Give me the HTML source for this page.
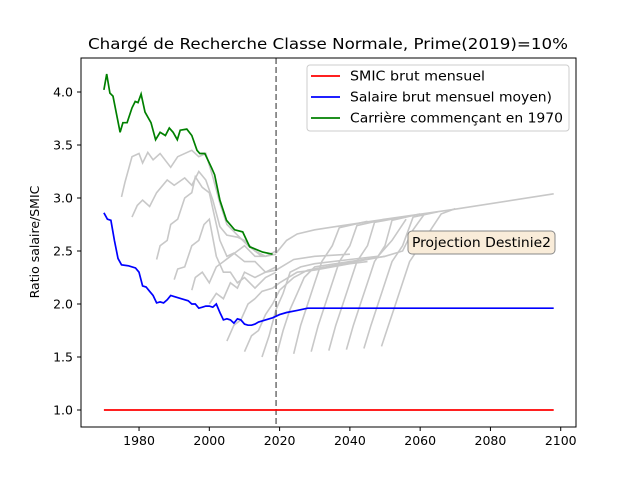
<!DOCTYPE html>
<html><head><meta charset="utf-8"><style>
body{margin:0;background:#fff}
svg{display:block;font-family:"DejaVu Sans","Liberation Sans",sans-serif}
</style></head><body>
<svg id="chart" width="640" height="480" viewBox="0 0 640 480">
<rect width="640" height="480" fill="#fff"/>
<text x="88" y="49" font-size="15" textLength="480" lengthAdjust="spacingAndGlyphs">Chargé de Recherche Classe Normale, Prime(2019)=10%</text>
<text transform="translate(39,242) rotate(-90)" font-size="12.5" text-anchor="middle">Ratio salaire/SMIC</text>
<g id="grays"></g>
<g id="main"></g>
<g id="axes"></g>
<g>
<rect x="408" y="231" width="147" height="23" rx="4" fill="#f9ecd9" stroke="#888" stroke-width="1"/>
<text x="412" y="247" font-size="13" textLength="139" lengthAdjust="spacingAndGlyphs">Projection Destinie2</text>
</g>
<g>
<rect x="307" y="65" width="262" height="66" rx="3" fill="#fff" fill-opacity="0.85" stroke="#ccc"/>
<g><line x1="311" x2="340" y1="76" y2="76" stroke="#f00" stroke-width="1.7"/><text x="350" y="80.5" font-size="13" textLength="135" lengthAdjust="spacingAndGlyphs">SMIC brut mensuel</text></g>
<g><line x1="311" x2="340" y1="97" y2="97" stroke="#00f" stroke-width="1.7"/><text x="350" y="101.5" font-size="13" textLength="202" lengthAdjust="spacingAndGlyphs">Salaire brut mensuel moyen)</text></g>
<g><line x1="311" x2="340" y1="118" y2="118" stroke="#008000" stroke-width="1.7"/><text x="350" y="122.5" font-size="13" textLength="213" lengthAdjust="spacingAndGlyphs">Carrière commençant en 1970</text></g>
</g>
</svg>
<script>
const xTicks=[1980,2000,2020,2040,2060,2080,2100];
const yTicks=[1.0,1.5,2.0,2.5,3.0,3.5,4.0];
const smic=[[1970,1.0],[2098,1.0]];
const salaire=[[1970,2.86],[1971,2.8],[1972,2.79],[1973,2.6],[1974,2.43],[1975,2.37],[1977,2.36],[1979,2.34],[1980,2.3],[1981,2.17],[1982,2.16],[1983,2.12],[1984,2.08],[1985,2.01],[1986,2.02],[1987,2.01],[1988,2.04],[1989,2.08],[1990,2.07],[1992,2.05],[1994,2.03],[1995,2.0],[1996,2.0],[1997,1.96],[1998,1.97],[1999,1.98],[2000,1.98],[2001,1.97],[2002,2.0],[2003,1.92],[2004,1.85],[2005,1.86],[2006,1.85],[2007,1.82],[2008,1.86],[2009,1.85],[2010,1.81],[2011,1.8],[2012,1.8],[2013,1.81],[2014,1.83],[2016,1.85],[2018,1.87],[2020,1.9],[2022,1.92],[2025,1.94],[2028,1.96],[2098,1.96]];
const carriere=[[1970,4.02],[1970.8,4.17],[1971.7,3.99],[1972.6,3.96],[1974.6,3.62],[1975.4,3.71],[1976.6,3.71],[1978,3.85],[1978.9,3.91],[1979.7,3.9],[1980.6,3.98],[1981.7,3.81],[1983.4,3.71],[1984.7,3.55],[1986,3.62],[1987.5,3.59],[1988.6,3.66],[1989.7,3.62],[1990.9,3.55],[1991.7,3.64],[1993.6,3.65],[1995,3.59],[1996.5,3.45],[1997.3,3.42],[1998.7,3.42],[2000.7,3.28],[2001.5,3.22],[2003,2.98],[2004.9,2.79],[2007.2,2.7],[2009.5,2.68],[2011.5,2.54],[2015.2,2.49],[2018,2.47]];
const g1975=[[1975,3.01],[1976,3.15],[1978,3.39],[1980,3.42],[1981,3.33],[1982.5,3.43],[1984,3.36],[1986,3.42],[1989,3.29],[1991,3.39],[1995,3.45],[1997,3.39],[1999,3.42],[2001,3.2],[2003,2.95],[2005,2.75],[2008,2.65],[2011,2.55],[2015,2.45]];
const g1978=[[1978,2.82],[1979.5,2.93],[1981,2.98],[1983,2.92],[1985,3.05],[1988,3.17],[1990,3.12],[1993,3.19],[1995,3.12],[1997,3.25],[1999,3.17],[2001,2.98],[2003,2.73],[2005,2.65],[2008,2.63],[2010,2.6],[2013,2.5],[2016,2.45],[2019,2.47]];
const g1985=[[1985,2.42],[1986,2.55],[1988,2.6],[1989,2.75],[1991,2.8],[1993,3.0],[1995,3.05],[1996,3.2],[1998,3.1],[2000,3.05],[2001,2.9],[2003,2.6],[2005,2.45],[2007,2.48],[2010,2.4],[2013,2.4],[2016,2.3],[2019,2.35]];
const g1990=[[1990,2.23],[1991,2.33],[1993,2.35],[1995,2.55],[1997,2.6],[1998.5,2.75],[2000,2.8],[2002,2.45],[2004,2.3],[2006,2.3],[2008,2.2],[2010,2.25],[2013,2.15],[2016,2.25],[2019,2.3]];
const g1995=[[1995,2.13],[1996,2.25],[1998,2.3],[2000,2.2],[2002,2.35],[2004,2.4],[2006,2.45],[2008,2.5],[2010,2.55],[2013,2.45],[2016,2.45],[2019,2.5]];
const g2000=[[2000,2.0],[2002,2.1],[2004,2.05],[2006,2.2],[2008,2.15],[2010,2.3],[2013,2.25],[2016,2.3],[2019,2.32],[2024,2.42],[2030,2.45],[2040,2.47]];
const g2005=[[2005,1.65],[2007,1.8],[2009,1.85],[2011,2.0],[2013,2.05],[2015,2.12],[2018,2.15],[2020,2.2],[2025,2.3],[2030,2.32],[2040,2.38],[2045,2.4]];
const g2010=[[2010,1.55],[2012,1.7],[2014,1.75],[2016,1.9],[2018,2.0],[2020,2.13],[2024,2.25],[2028,2.32],[2035,2.36],[2045,2.42],[2050,2.45]];
const g2015=[[2015,1.5],[2017,1.7],[2019,1.95],[2021,2.1],[2023,2.3],[2026,2.35],[2030,2.38],[2040,2.42],[2048,2.45],[2052,2.6],[2056,2.8]];
const g2019=[[2019,1.5],[2021,1.75],[2023,1.95],[2025,2.1],[2027,2.25],[2030,2.35],[2040,2.4],[2050,2.45],[2055,2.5],[2058,2.7],[2061,2.84]];
const g2024=[[2024,1.53],[2026,1.8],[2028,2.0],[2030,2.2],[2032,2.4],[2035,2.55],[2037,2.72],[2045,2.78]];
const g2029=[[2029,1.55],[2031,1.8],[2033,2.0],[2035,2.2],[2037,2.4],[2040,2.55],[2042,2.74],[2050,2.8]];
const g2034=[[2034,1.56],[2036,1.8],[2038,2.0],[2040,2.2],[2042,2.4],[2045,2.55],[2047,2.77],[2055,2.82]];
const g2039=[[2039,1.57],[2041,1.8],[2043,2.0],[2045,2.2],[2047,2.4],[2050,2.55],[2052,2.79],[2060,2.85]];
const g2044=[[2044,1.58],[2046,1.8],[2048,2.0],[2050,2.2],[2052,2.4],[2055,2.55],[2058,2.82],[2065,2.87]];
const g2049=[[2049,1.6],[2051,1.8],[2053,2.0],[2055,2.2],[2057,2.4],[2060,2.55],[2063,2.7],[2066,2.85],[2070,2.9]];
const envelope=[[2019,2.48],[2022,2.6],[2025,2.66],[2030,2.7],[2036,2.73],[2050,2.8],[2069,2.89],[2098,3.04]];
const grays=[g1975,g1978,g1985,g1990,g1995,g2000,g2005,g2010,g2015,g2019,g2024,g2029,g2034,g2039,g2044,g2049,envelope];
const grayNames=['1975','1978','1985','1990','1995','2000','2005','2010','2015','2019','2024','2029','2034','2039','2044','2049','envelope'];
const projectionYear=2019;

const NS='http://www.w3.org/2000/svg';
const X=t=>103.9+(t-1970)*3.514;
const Y=v=>410-(v-1)*106;
function mk(tag,attrs,parent){const e=document.createElementNS(NS,tag);for(const k in attrs)e.setAttribute(k,attrs[k]);parent.appendChild(e);return e;}
function path(d){return d.map((p,i)=>(i?'L':'M')+X(p[0]).toFixed(1)+','+Y(p[1]).toFixed(1)).join('');}
const gG=document.getElementById('grays');
grays.forEach((s,i)=>{
  const p=mk('path',{d:path(s),fill:'none',stroke:'#c8c8c8','stroke-width':1.6},gG);
  
  
});
const gM=document.getElementById('main');
const vl=mk('line',{x1:X(projectionYear),x2:X(projectionYear),y1:58,y2:427,stroke:'#808080','stroke-width':1.7,'stroke-dasharray':'6,3'},gM);


const s1=mk('path',{d:path(smic),fill:'none',stroke:'#f00','stroke-width':1.7},gM);


const s2=mk('path',{d:path(salaire),fill:'none',stroke:'#00f','stroke-width':1.7},gM);


const s3=mk('path',{d:path(carriere),fill:'none',stroke:'#008000','stroke-width':1.7},gM);


const gA=document.getElementById('axes');
const fr=mk('rect',{x:81,y:58,width:495,height:369,fill:'none',stroke:'#000','stroke-width':1},gA);


xTicks.forEach(t=>{
  const l=mk('line',{x1:X(t),x2:X(t),y1:427,y2:431,stroke:'#000'},gA);
  
  
  const tx=mk('text',{x:X(t),y:445,'font-size':12.5,'text-anchor':'middle'},gA);
  tx.textContent=t;
  
  
});
yTicks.forEach(v=>{
  const l=mk('line',{x1:77,x2:81,y1:Y(v),y2:Y(v),stroke:'#000'},gA);
  
  
  const tx=mk('text',{x:73,y:Y(v)+4.5,'font-size':12.5,'text-anchor':'end'},gA);
  tx.textContent=v.toFixed(1);
  
  
});
</script>
</body></html>
